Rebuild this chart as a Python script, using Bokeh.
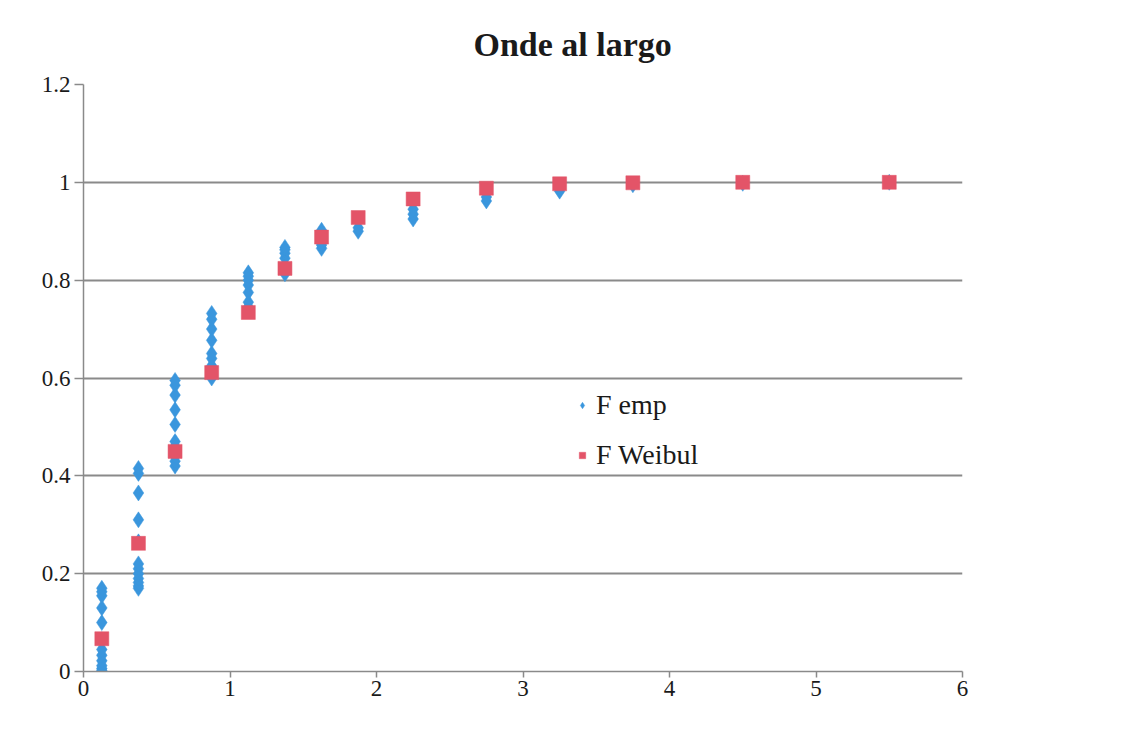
from bokeh.plotting import figure
from bokeh.embed import file_html
from bokeh.resources import INLINE
from bokeh.models import FixedTicker, CustomJSTickFormatter, Legend, LegendItem, Range1d

# ---- data ----
emp_x = [0.125]*12 + [0.375]*12 + [0.625]*10 + [0.875]*9 + [1.125]*7 + [1.375]*6 \
        + [1.625]*4 + [1.875]*2 + [2.25]*3 + [2.75]*2 + [3.25] + [3.75] + [4.5] + [5.5]
emp_y = [0.002, 0.006, 0.012, 0.022, 0.033, 0.045, 0.065, 0.10, 0.13, 0.155, 0.163, 0.17,
         0.17, 0.175, 0.182, 0.19, 0.2, 0.21, 0.22, 0.265, 0.31, 0.365, 0.405, 0.415,
         0.42, 0.43, 0.44, 0.46, 0.47, 0.505, 0.535, 0.565, 0.585, 0.595,
         0.60, 0.61, 0.625, 0.64, 0.65, 0.677, 0.70, 0.72, 0.732,
         0.745, 0.755, 0.775, 0.79, 0.80, 0.808, 0.815,
         0.813, 0.83, 0.845, 0.855, 0.862, 0.867,
         0.865, 0.872, 0.895, 0.902,
         0.9, 0.907,
         0.925, 0.935, 0.945,
         0.962, 0.97,
         0.982,
         0.995,
         0.998,
         1.0]
weib_x = [0.125, 0.375, 0.625, 0.875, 1.125, 1.375, 1.625, 1.875, 2.25, 2.75, 3.25, 3.75, 4.5, 5.5]
weib_y = [0.067, 0.262, 0.45, 0.611, 0.734, 0.824, 0.888, 0.928, 0.966, 0.988, 0.997, 0.999, 1.0, 1.0]

x_ticks = [0, 1, 2, 3, 4, 5, 6]
y_ticks = [0, 0.2, 0.4, 0.6, 0.8, 1.0, 1.2]
title_text = "Onde al largo"
label_emp = "F emp"
label_weib = "F Weibul"

SERIF = "Liberation Serif"
GRID = "#8a8a8a"
TEXT = "#1a1a1a"

p = figure(width=1111, height=723, output_backend="svg", toolbar_location=None,
           x_range=Range1d(0, 6), y_range=Range1d(0, 1.2),
           min_border_left=83, min_border_right=149, min_border_top=84, min_border_bottom=52)
p.outline_line_color = None
p.background_fill_color = "white"
p.border_fill_color = "white"

p.title.text = title_text
p.title.align = "left"
p.title.offset = 390
p.title.text_font = SERIF
p.title.text_font_style = "bold"
p.title.text_font_size = "34px"
p.title.text_color = TEXT
p.title.standoff = 44

# axes
for ax in (p.xaxis[0], p.yaxis[0]):
    ax.axis_line_color = GRID
    ax.axis_line_width = 1.5
    ax.major_tick_line_color = GRID
    ax.major_tick_line_width = 1.5
    ax.minor_tick_line_color = None
    ax.major_tick_in = 0
    ax.major_label_text_font = SERIF
    ax.major_label_text_font_size = "23px"
    ax.major_label_text_color = TEXT

p.xaxis.ticker = FixedTicker(ticks=x_ticks)
p.yaxis.ticker = FixedTicker(ticks=y_ticks)
p.xaxis.major_tick_out = 6
p.yaxis.major_tick_out = 9
p.xaxis.major_label_standoff = 3
p.yaxis.major_label_standoff = 4
fmt = CustomJSTickFormatter(code="return String(Math.round(tick*10)/10);")
p.xaxis.formatter = fmt
p.yaxis.formatter = fmt

p.xgrid.grid_line_color = None
p.ygrid.ticker = FixedTicker(ticks=y_ticks)
p.ygrid.grid_line_color = GRID
p.ygrid.grid_line_width = 2

r_emp = p.scatter(emp_x, emp_y, marker="diamond", size=16, fill_color="#3a96dd",
                  line_color="#3a96dd", line_width=0.5)
r_weib = p.scatter(weib_x, weib_y, marker="square", size=14, fill_color="#e35468",
                   line_color="#e35468", line_width=0.5)

legend = Legend(items=[LegendItem(label=label_emp, renderers=[r_emp]),
                       LegendItem(label=label_weib, renderers=[r_weib])],
                location=(491, 200), orientation="vertical")
legend.border_line_color = None
legend.background_fill_alpha = 0
legend.padding = 0
legend.margin = 0
legend.spacing = 18
legend.label_height = 26
legend.glyph_height = 24
legend.glyph_width = 16
legend.label_standoff = 6
legend.label_text_font = SERIF
legend.label_text_font_size = "28px"
legend.label_text_color = TEXT
p.add_layout(legend, "center")

open("out.html", "w").write(file_html(p, INLINE))
